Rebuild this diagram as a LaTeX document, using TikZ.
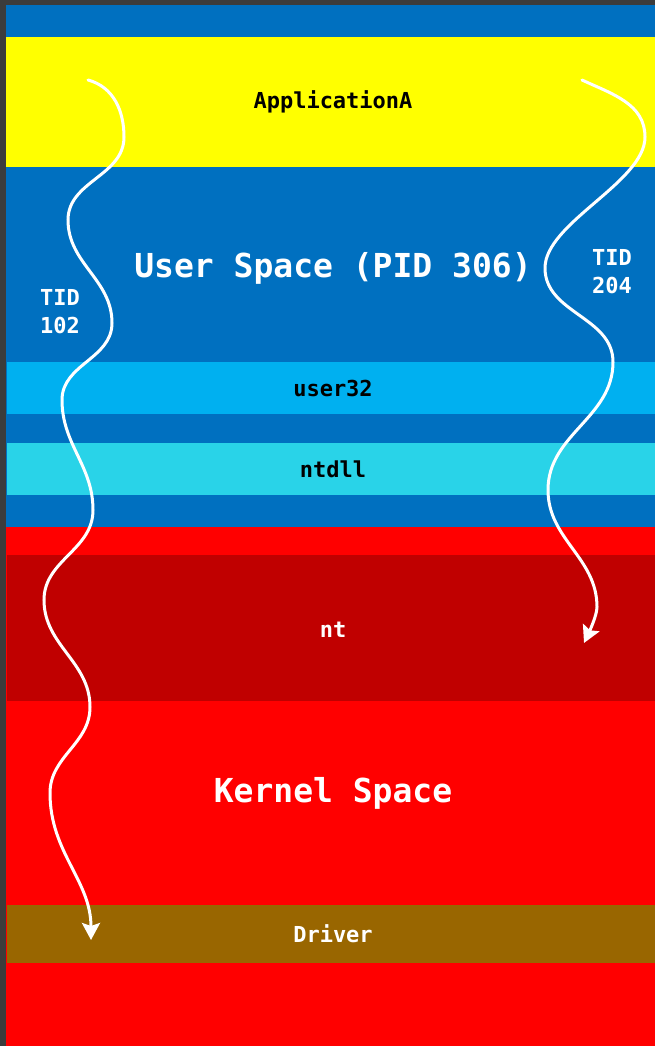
\documentclass[tikz,border=0pt]{standalone}
\usepackage{fontspec}
\newfontfamily\monof{DejaVu Sans Mono}
\usetikzlibrary{arrows.meta}
\definecolor{bordergray}{HTML}{3C3C3C}
\definecolor{userblue}{HTML}{0070C0}
\definecolor{appyellow}{HTML}{FFFF00}
\definecolor{usercyan}{HTML}{00B0F0}
\definecolor{ntdllcyan}{HTML}{29D3E8}
\definecolor{kernred}{HTML}{FF0000}
\definecolor{ntred}{HTML}{C00000}
\definecolor{drvbrown}{HTML}{996600}
\tikzset{
  bigtxt/.style={font=\monof\bfseries\fontsize{33}{38}\selectfont, text=white, anchor=base, inner sep=0pt},
  smalltxt/.style={font=\monof\bfseries\fontsize{22}{28}\selectfont, anchor=base, inner sep=0pt},
  thread/.style={draw=white, line width=3pt, line cap=round, -{Stealth[length=17pt,width=18pt,inset=3pt]}}
}
\begin{document}
\begin{tikzpicture}[x=1pt,y=-1pt]
\useasboundingbox (0,0) rectangle (655,1046);
% background
\fill[bordergray] (0,0) rectangle (655,1046);
\fill[userblue] (6,5) rectangle (655,527);
\fill[kernred] (6,527) rectangle (655,1046);
\fill[appyellow] (6,37) rectangle (655,167);
\fill[usercyan] (7,362) rectangle (655,414);
\fill[ntdllcyan] (7,443) rectangle (655,495);
\fill[ntred] (7,555) rectangle (655,701);
\fill[drvbrown] (7,905) rectangle (655,963);
% labels
\node[smalltxt, text=black] (app) at (333,109) {ApplicationA};
\node[bigtxt] (user) at (333,277) {User Space (PID 306)};
\node[smalltxt, text=black] (u32) at (333,396) {user32};
\node[smalltxt, text=black] (ntdll) at (333,477) {ntdll};
\node[smalltxt, text=white] (nt) at (333,637) {nt};
\node[bigtxt] (kern) at (333,802) {Kernel Space};
\node[smalltxt, text=white] (drv) at (333,942) {Driver};
\node[smalltxt, text=white, align=center] (tid1) at (60,333) {TID\\102};
\node[smalltxt, text=white, align=center] (tid2) at (612,293) {TID\\204};
% threads
\coordinate (t1s) at (88,80);
\coordinate (t1e) at (91,940);
\coordinate (t2s) at (582,80);
\coordinate (t2e) at (584,643);
\draw[thread] (t1s) to[out=-15,in=90] (124,137)
  to[out=-90,in=90] (68,220)
  to[out=-90,in=90] (112,323)
  to[out=-90,in=90] (62,400)
  to[out=-90,in=90] (93,510)
  to[out=-90,in=90] (44,600)
  to[out=-90,in=90] (90,707)
  to[out=-90,in=90] (50,793)
  to[out=-90,in=90] (t1e);
\draw[thread] (t2s) to[out=-25,in=90] (645,137)
  to[out=-90,in=90,looseness=0.7] (545,268)
  to[out=-90,in=90] (613,362)
  to[out=-90,in=90] (548,490)
  to[out=-90,in=90] (597,607)
  to[out=-90,in=65,looseness=0.6] (t2e);
\end{tikzpicture}
\end{document}
